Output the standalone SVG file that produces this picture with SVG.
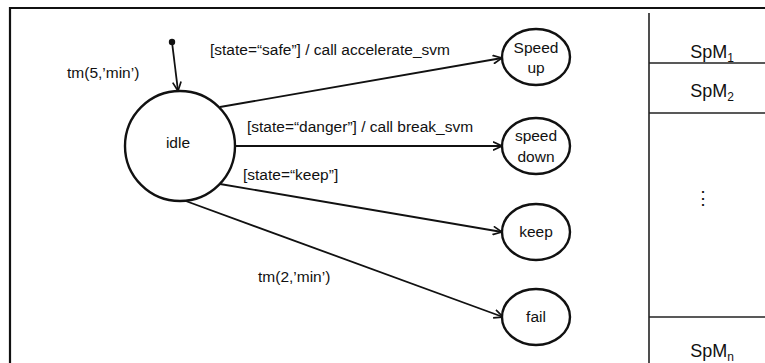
<svg xmlns="http://www.w3.org/2000/svg" width="765" height="363" viewBox="0 0 765 363">
<defs>
<style>
text{font-family:"Liberation Sans",Arial,sans-serif;fill:#111;}
.lbl{font-size:15.5px;}
.st{font-size:15.5px;text-anchor:middle;}
.spm{font-size:18px;text-anchor:middle;}
.frame{stroke:#111;stroke-width:2.2;fill:none;}
.part{stroke:#222;stroke-width:1.6;fill:none;}
.state{stroke:#111;stroke-width:2.4;fill:#fff;}
.edge{stroke:#111;stroke-width:1.8;fill:none;marker-end:url(#arr);}
</style>
<marker id="arr" viewBox="0 0 10 10" refX="9.5" refY="5" markerWidth="10" markerHeight="10" markerUnits="userSpaceOnUse" orient="auto">
<path d="M0.5,0.8 L9.5,5 L0.5,9.2" fill="none" stroke="#111" stroke-width="1.7"/>
</marker>
</defs>
<rect width="765" height="363" fill="#fff"/>
<g id="frame">
<line class="frame" x1="10" y1="8" x2="765" y2="8"/>
<line class="frame" x1="10" y1="7" x2="10" y2="363"/>
</g>
<g id="panel">
<line class="part" x1="649" y1="13" x2="649" y2="363"/>
<line class="part" x1="649" y1="63" x2="765" y2="63"/>
<line class="part" x1="649" y1="113" x2="765" y2="113"/>
<line class="part" x1="649" y1="317" x2="765" y2="317"/>
<text class="spm" x="712" y="58">SpM<tspan font-size="12" dy="4">1</tspan></text>
<text class="spm" x="712" y="97">SpM<tspan font-size="12" dy="4">2</tspan></text>
<text class="spm" x="703" y="204" font-size="14">⋮</text>
<text class="spm" x="712" y="357">SpM<tspan font-size="12" dy="4">n</tspan></text>
</g>
<g id="connectors">
<circle cx="172" cy="42" r="3.2" fill="#111"/>
<line class="edge" x1="172" y1="42" x2="178" y2="91"/>
<line class="edge" x1="220" y1="107" x2="502" y2="58"/>
<line class="edge" x1="235" y1="146" x2="502" y2="146"/>
<line class="edge" x1="220" y1="184" x2="502" y2="232"/>
<line class="edge" x1="183" y1="200" x2="503" y2="317"/>
<text class="lbl" x="67" y="78">tm(5,’min’)</text>
<text class="lbl" x="210" y="55">[state=“safe”] / call accelerate_svm</text>
<text class="lbl" x="247" y="132">[state=“danger”] / call break_svm</text>
<text class="lbl" x="243" y="180">[state=“keep”]</text>
<text class="lbl" x="258" y="282">tm(2,’min’)</text>
</g>
<g id="idle">
<circle class="state" cx="180" cy="146" r="55"/>
<text class="st" x="178" y="148">idle</text>
</g>
<g id="speedup">
<ellipse class="state" cx="536" cy="57" rx="34" ry="28"/>
<text class="st" x="536" y="53">Speed</text>
<text class="st" x="536" y="73">up</text>
</g>
<g id="speeddown">
<ellipse class="state" cx="536" cy="146" rx="34" ry="28"/>
<text class="st" x="536" y="141">speed</text>
<text class="st" x="536" y="162">down</text>
</g>
<g id="keep">
<ellipse class="state" cx="536" cy="232" rx="34" ry="28"/>
<text class="st" x="536" y="237">keep</text>
</g>
<g id="fail">
<ellipse class="state" cx="536" cy="317" rx="34" ry="28"/>
<text class="st" x="536" y="322">fail</text>
</g>
</svg>
